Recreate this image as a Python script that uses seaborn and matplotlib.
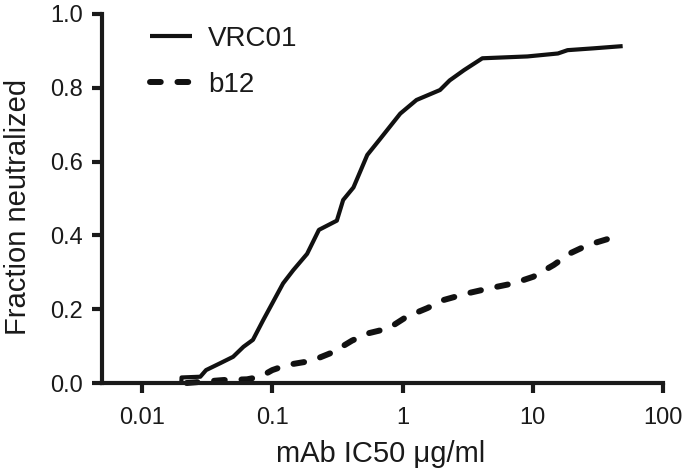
import numpy as np
import pandas as pd
import matplotlib
matplotlib.use("Agg")
import matplotlib.pyplot as plt
import seaborn as sns

# ---- data ----
vrc01_ic50 = [0.020, 0.0201, 0.028, 0.031, 0.040, 0.050, 0.060, 0.071, 0.085, 0.100,
              0.121, 0.145, 0.185, 0.228, 0.313, 0.350, 0.420, 0.536, 0.675, 0.96,
              1.28, 1.94, 2.30, 2.97, 4.1, 9.1, 15.6, 18.5, 29.4, 49.0]
vrc01_frac = [0.0, 0.015, 0.017, 0.035, 0.054, 0.071, 0.098, 0.117, 0.17, 0.216,
              0.27, 0.306, 0.35, 0.415, 0.44, 0.496, 0.53, 0.618, 0.662, 0.73,
              0.767, 0.794, 0.82, 0.848, 0.88, 0.885, 0.893, 0.902, 0.907, 0.913]
b12_ic50 = [0.022, 0.042, 0.064, 0.081, 0.10, 0.13, 0.20, 0.29, 0.41, 0.55, 0.78,
            1.08, 1.55, 2.07, 3.15, 4.7, 7.1, 10.1, 14.5, 19.5, 26.5, 40.0]
b12_frac = [0.0, 0.008, 0.01, 0.017, 0.035, 0.049, 0.06, 0.083, 0.115, 0.135, 0.148,
            0.18, 0.203, 0.225, 0.243, 0.257, 0.27, 0.288, 0.32, 0.352, 0.374, 0.393]
x_ticks = [0.01, 0.1, 1, 10, 100]
x_ticklabels = ["0.01", "0.1", "1", "10", "100"]
y_ticks = [0.0, 0.2, 0.4, 0.6, 0.8, 1.0]

df_v = pd.DataFrame({"ic50": vrc01_ic50, "frac": vrc01_frac})
df_b = pd.DataFrame({"ic50": b12_ic50, "frac": b12_frac})

sns.set_theme(style="ticks")
plt.rcParams["font.family"] = ["Liberation Sans", "DejaVu Sans"]
ink = "#1a1a1a"
plt.rcParams["text.color"] = ink
plt.rcParams["axes.labelcolor"] = ink
plt.rcParams["xtick.color"] = ink
plt.rcParams["ytick.color"] = ink

fig = plt.figure(figsize=(6.85, 4.7), dpi=100)
ax = fig.add_axes([102 / 685, 1 - 383 / 470, (663 - 102) / 685, (383 - 14) / 470])

sns.lineplot(data=df_v, x="ic50", y="frac", ax=ax, color="#111111", linewidth=3.0,
             estimator=None, sort=False, label="VRC01", solid_capstyle="butt", clip_on=False)
sns.lineplot(data=df_b, x="ic50", y="frac", ax=ax, color="#111111", linewidth=4.3,
             estimator=None, sort=False, label="b12", linestyle=(0, (1.8, 2.8)),
             dash_capstyle="round", clip_on=False)

ax.set_xscale("log")
ax.set_xlim(10 ** (-2 - 40 / 130), 100)
ax.set_ylim(0, 1.0)
ax.set_xticks(x_ticks)
ax.set_xticklabels(x_ticklabels)
ax.minorticks_off()
ax.set_yticks(y_ticks)
ax.set_yticklabels([f"{v:.1f}" for v in y_ticks])

for s in ["top", "right"]:
    ax.spines[s].set_visible(False)
for s in ["left", "bottom"]:
    ax.spines[s].set_linewidth(3.0)
    ax.spines[s].set_color(ink)
    ax.spines[s].set_capstyle("projecting")
ax.tick_params(axis="both", direction="out", length=7, width=3.0, labelsize=17)
ax.tick_params(axis="x", pad=10)
ax.tick_params(axis="y", pad=7)

ax.set_xlabel("mAb IC50 μg/ml", fontsize=21)
ax.set_ylabel("Fraction neutralized", fontsize=21)
ax.xaxis.set_label_coords(0.497, -0.155)
ax.yaxis.set_label_coords(-0.124, 0.477)

leg = ax.legend(loc="upper left", bbox_to_anchor=(150 / 685, 1 - 26 / 470),
                bbox_transform=fig.transFigure, frameon=False, fontsize=20,
                handlelength=1.5, handletextpad=0.58, labelspacing=0.72,
                borderpad=0, borderaxespad=0)

fig.savefig("out.png", dpi=100)
